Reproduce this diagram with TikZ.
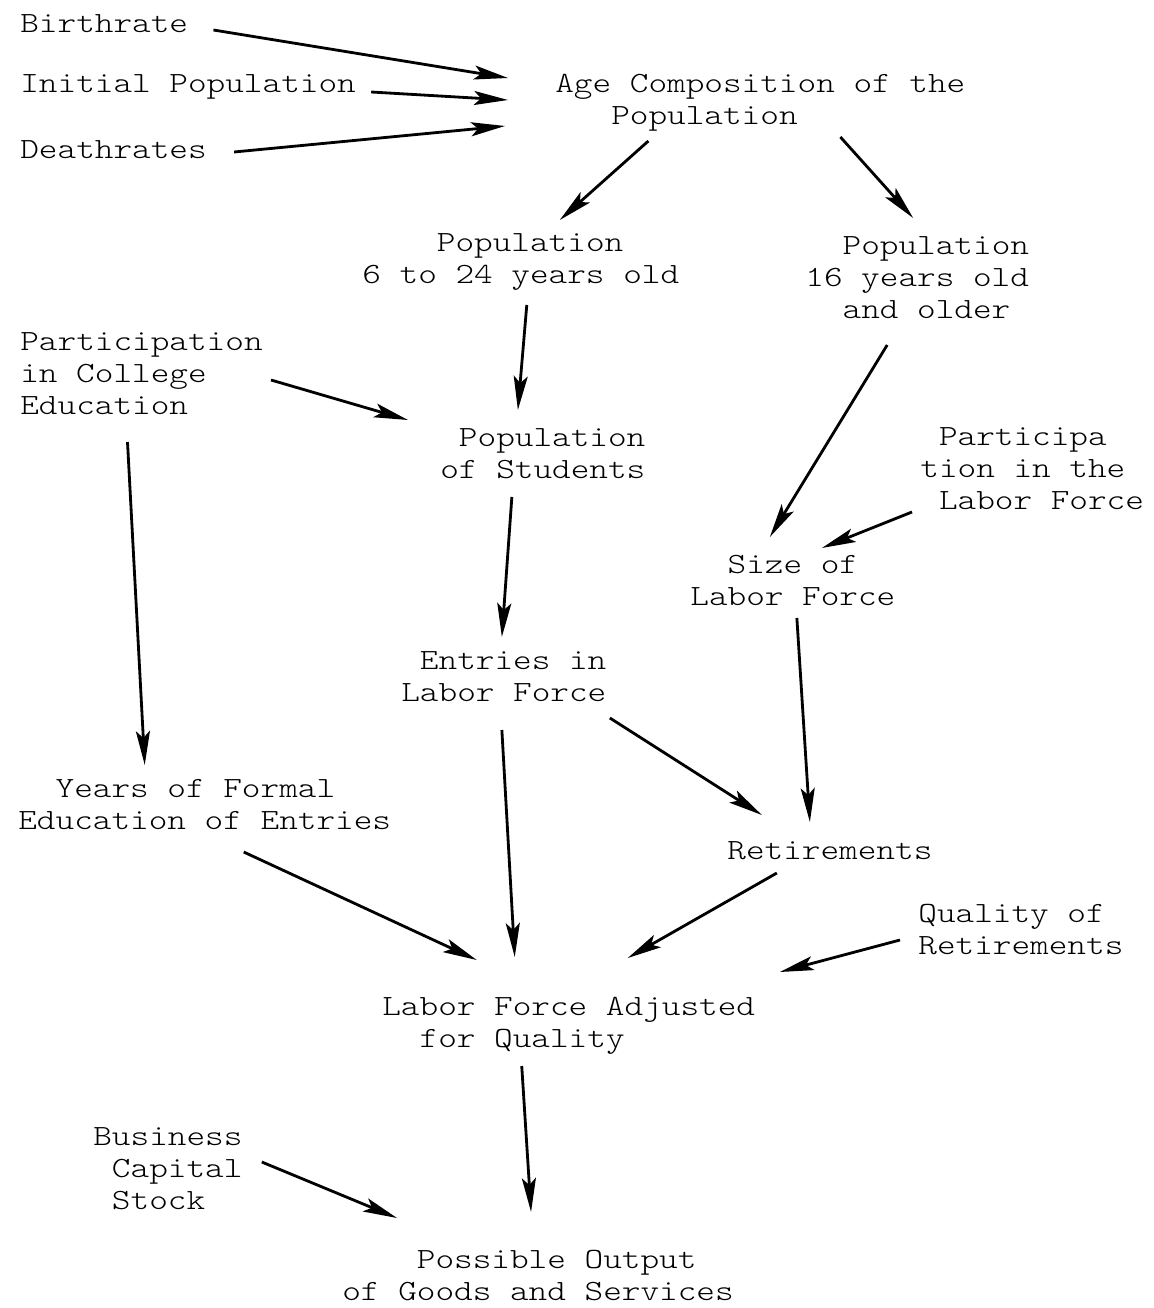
\documentclass[tikz,border=0pt]{standalone}
\usepackage{fontspec}
\usepackage{tikz}
\usetikzlibrary{arrows.meta}
\newfontfamily\typewriter{lmmonolt10-regular.otf}[FakeStretch=1.21]
\newcommand{\ind}[1]{\hphantom{#1}}

\begin{document}
\begin{tikzpicture}[
    x=0.02cm, y=-0.02cm,
    txt/.style={anchor=west, align=left, inner sep=0pt, font=\typewriter\fontsize{16.7pt}{18.2pt}\selectfont},
    line/.style={draw=black, line width=1.6pt, -{Stealth[length=0.68cm, width=0.28cm, inset=0.14cm]}}
]
\useasboundingbox (0,0) rectangle (1153,1308);

% Nodes
\node (birth) [txt] at (20,24) {Birthrate};
\node (init) [txt] at (20,87) {Initial Population};
\node (death) [txt] at (20,150) {Deathrates};
\node (age) [txt] at (555,103) {Age Composition of the\\\ind{xxx}Population};
\node (pop6) [txt] at (362,262) {\ind{xxxx}Population\\6 to 24 years old};
\node (pop16) [txt] at (805,278) {\ind{xx}Population\\16 years old\\\ind{xx}and older};
\node (college) [txt] at (20,374) {Participation\\in College\\Education};
\node (students) [txt] at (440,454) {\ind{x}Population\\of Students};
\node (laborpart) [txt] at (920,469) {\ind{x}Participa\\tion in the\\\ind{x}Labor Force};
\node (size) [txt] at (690,580) {\ind{xx}Size of\\Labor Force};
\node (entries) [txt] at (401,677) {\ind{x}Entries in\\Labor Force};
\node (years) [txt] at (18,805) {\ind{xx}Years of Formal\\Education of Entries};
\node (retire) [txt] at (727,851) {Retirements};
\node (quality) [txt] at (918,930) {Quality of\\Retirements};
\node (lfaq) [txt] at (382,1026) {Labor Force Adjusted\\\ind{xx}for Quality};
\node (business) [txt] at (93,1169) {Business\\\ind{x}Capital\\\ind{x}Stock};
\node (output) [txt] at (342,1276) {\ind{xxxx}Possible Output\\of Goods and Services};

% Connectors
\path [line] ([shift={(25,6)}]birth.east) -- ([shift={(-47,-25)}]age.west);
\path [line] ([shift={(15,5)}]init.east) -- ([shift={(-47,-3)}]age.west);
\path [line] ([shift={(27,2)}]death.east) -- ([shift={(-50,23)}]age.west);
\path [line] ([shift={(-112,38)}]age.center) -- ([shift={(39,-42)}]pop6.center);
\path [line] ([shift={(80,34)}]age.center) -- ([shift={(-4,-60)}]pop16.center);
\path [line] ([shift={(6,43)}]pop6.center) -- ([shift={(-25,-44)}]students.center);
\path [line] ([shift={(8,6)}]college.east) -- ([shift={(-32,-34)}]students.west);
\path [line] ([shift={(-14,68)}]college.center) -- ([shift={(-60,-40)}]years.center);
\path [line] ([shift={(-30,67)}]pop16.center) -- ([shift={(-23,-43)}]size.center);
\path [line] ([shift={(-8,43)}]laborpart.west) -- ([shift={(29,-32)}]size.center);
\path [line] ([shift={(-31,43)}]students.center) -- ([shift={(-2,-40)}]entries.center);
\path [line] ([shift={(4,38)}]size.center) -- ([shift={(-20,-29)}]retire.center);
\path [line] ([shift={(106,41)}]entries.center) -- ([shift={(-68,-36)}]retire.center);
\path [line] ([shift={(-2,53)}]entries.center) -- ([shift={(-54,-69)}]lfaq.center);
\path [line] ([shift={(39,47)}]years.center) -- ([shift={(-92,-66)}]lfaq.center);
\path [line] ([shift={(-53,22)}]retire.center) -- ([shift={(59,-68)}]lfaq.center);
\path [line] ([shift={(-18,10)}]quality.west) -- ([shift={(211,-54)}]lfaq.center);
\path [line] ([shift={(-47,40)}]lfaq.center) -- ([shift={(-7,-64)}]output.center);
\path [line] ([shift={(19,-7)}]business.east) -- ([shift={(55,-58)}]output.west);

\end{tikzpicture}
\end{document}
